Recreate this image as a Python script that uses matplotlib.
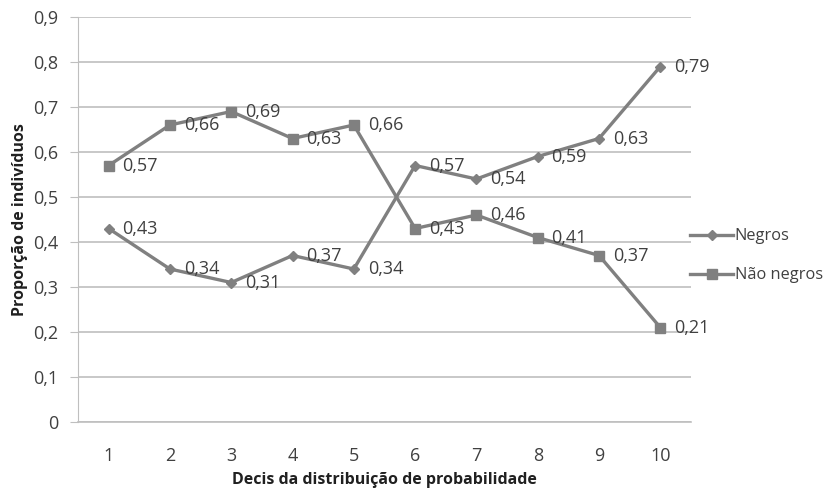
import matplotlib
matplotlib.use("Agg")
import matplotlib.pyplot as plt

deciles = [1, 2, 3, 4, 5, 6, 7, 8, 9, 10]
negros = [0.43, 0.34, 0.31, 0.37, 0.34, 0.57, 0.54, 0.59, 0.63, 0.79]
nao_negros = [0.57, 0.66, 0.69, 0.63, 0.66, 0.43, 0.46, 0.41, 0.37, 0.21]
y_ticks = [0.0, 0.1, 0.2, 0.3, 0.4, 0.5, 0.6, 0.7, 0.8, 0.9]

plt.rcParams['font.family'] = ['Open Sans', 'DejaVu Sans']

fig = plt.figure(figsize=(8.34, 4.93), dpi=100)
ax = fig.add_axes([0.0935, 0.144, 0.735, 0.8215])

line_col = '#808080'
grid_col = '#bfbfbf'
text_col = '#404040'

xs = list(range(len(deciles)))
ax.plot(xs, negros, color=line_col, lw=2.4, marker='D', ms=5,
        label='Negros', zorder=3)
ax.plot(xs, nao_negros, color=line_col, lw=2.4, marker='s', ms=7,
        label='Não negros', zorder=3)

def fmt(v):
    return f"{v:.2f}".replace('.', ',')

for series in (negros, nao_negros):
    for x, v in zip(xs, series):
        ax.annotate(fmt(v), (x, v), xytext=(10, 0), textcoords='offset points',
                    ha='left', va='center', fontsize=13, color=text_col,
                    zorder=4)

ax.set_xlim(-0.5, len(deciles) - 0.5)
ax.set_ylim(0, 0.9)
ax.set_xticks(xs)
ax.set_xticklabels([str(d) for d in deciles])
ax.set_yticks(y_ticks)
ax.set_yticklabels([f"{t:.1f}".replace('.', ',') if t else '0' for t in y_ticks])

ax.yaxis.grid(True, color=grid_col, lw=1.2)
ax.set_axisbelow(True)
for s in ('top', 'right'):
    ax.spines[s].set_visible(False)
ax.spines['left'].set_color(grid_col)
ax.spines['bottom'].set_color(grid_col)
ax.spines['bottom'].set_linewidth(1.2)
ax.tick_params(axis='y', length=6, color=grid_col, labelsize=13,
               labelcolor=text_col, pad=8)
ax.tick_params(axis='x', length=0, labelsize=13, labelcolor=text_col, pad=18)

ax.set_xlabel('Decis da distribuição de probabilidade', fontsize=11.5,
              fontweight='bold', color='#202020')
ax.xaxis.set_label_coords(0.5, -0.124)
ax.set_ylabel('Proporção de indivíduos', fontsize=11.5, fontweight='bold',
              color='#202020', labelpad=4)

ax.legend(loc='center left', bbox_to_anchor=(0.975, 0.41), frameon=False,
          fontsize=11.8, labelcolor=text_col, handlelength=2.6,
          handletextpad=0.1, labelspacing=1.4)

fig.savefig('out.png', dpi=100)
